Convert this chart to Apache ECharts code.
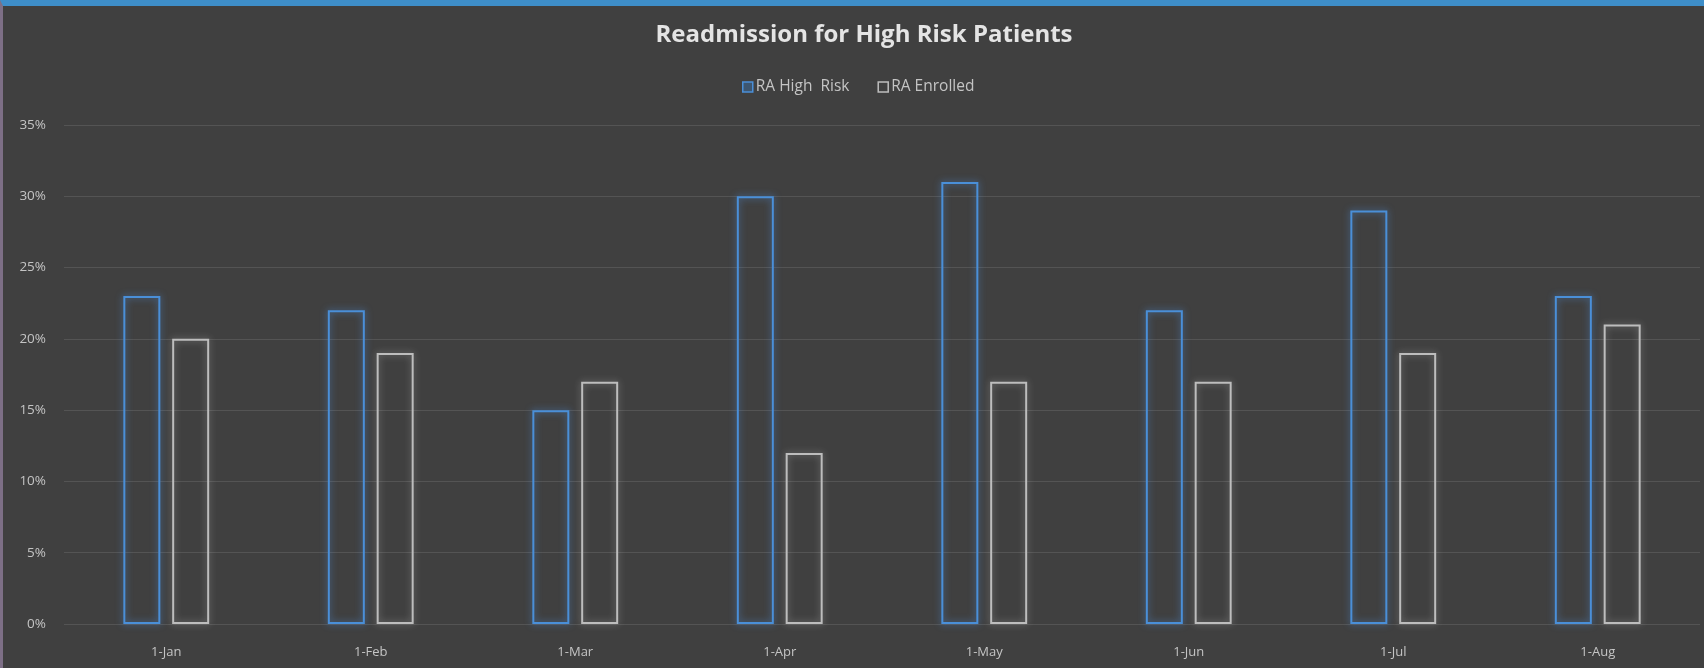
<!DOCTYPE html>
<html>
<head>
<meta charset="utf-8">
<script src="https://cdn.jsdelivr.net/npm/echarts@6/dist/echarts.min.js"></script>
<style>
  html, body { margin: 0; padding: 0; background: #404040; }
  #frame {
    position: absolute; left: 0; top: 0; width: 1704px; height: 668px;
    box-sizing: border-box; border-top: 6px solid #3e8ec9; border-left: 3px solid #7d6f86;
    background: #404040;
  }
  #chart { position: absolute; left: 0; top: 0; width: 1704px; height: 668px; }
</style>
</head>
<body>
<div id="frame"></div>
<div id="chart"></div>
<script>
// Monthly readmission rates (percent)
const months = ['1-Jan', '1-Feb', '1-Mar', '1-Apr', '1-May', '1-Jun', '1-Jul', '1-Aug'];
const highRisk = [23, 22, 15, 30, 31, 22, 29, 23];
const enrolled = [20, 19, 17, 12, 17, 17, 19, 21];
const seriesNames = ['RA High  Risk', 'RA Enrolled'];

const blue = '#4a8fd8';
const grey = '#bdbdbd';
const textColor = '#c4c4c4';

const chart = echarts.init(document.getElementById('chart'), null, { renderer: 'canvas' });

// Hollow bars: outline only, with a soft glow around the stroke
function outlinedBar(name, data, color, glow) {
  return {
    name: name,
    type: 'bar',
    data: data,
    barWidth: 37,
    barGap: '32%',
    itemStyle: {
      color: 'rgba(0,0,0,0)',
      borderColor: color,
      borderWidth: 2,
      shadowBlur: 7,
      shadowColor: glow
    },
    emphasis: { disabled: true }
  };
}

chart.setOption({
  backgroundColor: 'transparent',
  animation: false,
  title: {
    text: 'Readmission for High Risk Patients',
    left: 859, top: 18, textAlign: 'center',
    textStyle: { color: '#e4e4e4', fontSize: 24, fontWeight: 'bold', fontFamily: 'Open Sans' }
  },
  legend: {
    data: [
      { name: seriesNames[0], itemStyle: { color: '#3d5670', borderColor: blue, borderWidth: 1.5 } },
      { name: seriesNames[1], itemStyle: { color: 'rgba(0,0,0,0)', borderColor: grey, borderWidth: 1.5 } }
    ],
    left: 737, top: 74,
    itemWidth: 10, itemHeight: 10, itemGap: 28,
    icon: 'rect',
    textStyle: { color: textColor, fontSize: 15.5, fontFamily: 'Open Sans', padding: [0, 0, 0, -2] }
  },
  grid: { left: 64, right: 4, top: 125, bottom: 44, containLabel: false },
  xAxis: {
    type: 'category',
    data: months,
    axisLine: { show: false },
    axisTick: { show: false },
    axisLabel: { color: textColor, fontSize: 13, fontFamily: 'Open Sans', margin: 22 }
  },
  yAxis: {
    type: 'value',
    min: 0, max: 35, interval: 5,
    axisLine: { show: false },
    axisTick: { show: false },
    splitLine: { lineStyle: { color: '#545454', width: 1.2 } },
    axisLabel: {
      color: textColor, fontSize: 13.5, fontFamily: 'Open Sans', margin: 18,
      formatter: v => v + '%'
    }
  },
  series: [
    outlinedBar(seriesNames[0], highRisk, blue, 'rgba(80,150,235,0.7)'),
    outlinedBar(seriesNames[1], enrolled, grey, 'rgba(220,220,220,0.45)')
  ]
});
</script>
</body>
</html>
